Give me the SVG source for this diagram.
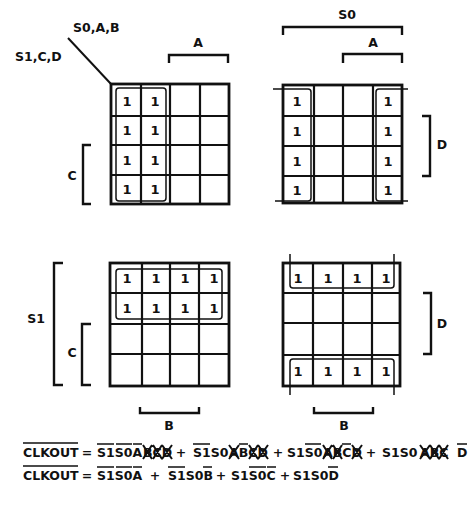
<svg xmlns="http://www.w3.org/2000/svg" width="473" height="505" viewBox="0 0 473 505">
<style>
text{font-family:"DejaVu Sans","Liberation Sans",sans-serif;font-weight:bold;fill:#111}
.lbl{font-size:12.5px}
.one{font-size:13px;text-anchor:middle}
.eq{font-size:12.5px}
.mid{text-anchor:middle}
.outer{fill:none;stroke:#111;stroke-width:2.8}
.grid{fill:none;stroke:#111;stroke-width:2.2}
.grp{fill:none;stroke:#111;stroke-width:1.5}
.br{fill:none;stroke:#111;stroke-width:2.4}
.bar{stroke:#111;stroke-width:1.5}
.x{stroke:#111;stroke-width:2}
</style>
<rect width="473" height="505" fill="#fff"/>

<g id="labels">
<line x1="68" y1="38" x2="111" y2="84" stroke="#111" stroke-width="2"/>
<text class="lbl" x="73" y="32">S0,A,B</text>
<text class="lbl" x="15" y="61">S1,C,D</text>
</g>

<g id="map-top-left">
<rect class="outer" x="111" y="84" width="118" height="120"/>
<path class="grid" d="M141,84V204M170,84V204M200,84V204M111,116H229M111,145H229M111,175H229"/>
<rect class="grp" x="116" y="88" width="50" height="113" rx="3"/>
<text class="one" x="127" y="106">1</text><text class="one" x="155" y="106">1</text>
<text class="one" x="127" y="135">1</text><text class="one" x="155" y="135">1</text>
<text class="one" x="127" y="165">1</text><text class="one" x="155" y="165">1</text>
<text class="one" x="127" y="194">1</text><text class="one" x="155" y="194">1</text>
<path class="br" d="M169,63V55H228V63"/>
<text class="lbl mid" x="198" y="47">A</text>
<path class="br" d="M91,145H83V204H91"/>
<text class="lbl mid" x="72" y="180">C</text>
</g>

<g id="map-top-right">
<rect class="outer" x="283" y="85" width="119" height="118"/>
<path class="grid" d="M314,85V203M343,85V203M373,85V203M283,116H402M283,146H402M283,176H402"/>
<path class="grp" d="M273,89H308Q311,89 311,92V198Q311,201 308,201H275"/>
<path class="grp" d="M408,89H379Q376,89 376,92V198Q376,201 379,201H408"/>
<text class="one" x="297" y="106">1</text><text class="one" x="388" y="106">1</text>
<text class="one" x="297" y="136">1</text><text class="one" x="388" y="136">1</text>
<text class="one" x="297" y="166">1</text><text class="one" x="388" y="166">1</text>
<text class="one" x="297" y="195">1</text><text class="one" x="388" y="195">1</text>
<path class="br" d="M283,35V27H402V35"/>
<text class="lbl mid" x="347" y="19">S0</text>
<path class="br" d="M343,63V54H402V63"/>
<text class="lbl mid" x="373" y="47">A</text>
<path class="br" d="M422,116H430V176H422"/>
<text class="lbl mid" x="442" y="149">D</text>
</g>

<g id="map-bottom-left">
<rect class="outer" x="110" y="263" width="119" height="123"/>
<path class="grid" d="M142,263V386M170,263V386M199,263V386M110,293H229M110,324H229M110,354H229"/>
<rect class="grp" x="116" y="269" width="106" height="50" rx="3"/>
<text class="one" x="127" y="283">1</text><text class="one" x="156" y="283">1</text><text class="one" x="185" y="283">1</text><text class="one" x="214" y="283">1</text>
<text class="one" x="127" y="313">1</text><text class="one" x="156" y="313">1</text><text class="one" x="185" y="313">1</text><text class="one" x="214" y="313">1</text>
<path class="br" d="M63,263H54V385H63"/>
<text class="lbl mid" x="36" y="323">S1</text>
<path class="br" d="M91,324H82V385H91"/>
<text class="lbl mid" x="72" y="357">C</text>
<path class="br" d="M140,407V413H199V407"/>
<text class="lbl mid" x="169" y="430">B</text>
</g>

<g id="map-bottom-right">
<rect class="outer" x="283" y="263" width="117" height="123"/>
<path class="grid" d="M313,263V386M343,263V386M372,263V386M283,293H400M283,323H400M283,355H400"/>
<path class="grp" d="M290,254V285Q290,288 293,288H391Q394,288 394,285V254"/>
<path class="grp" d="M290,395V362Q290,359 293,359H391Q394,359 394,362V395"/>
<text class="one" x="298" y="283">1</text><text class="one" x="328" y="283">1</text><text class="one" x="357" y="283">1</text><text class="one" x="386" y="283">1</text>
<text class="one" x="298" y="376">1</text><text class="one" x="328" y="376">1</text><text class="one" x="357" y="376">1</text><text class="one" x="386" y="376">1</text>
<path class="br" d="M423,293H431V354H423"/>
<text class="lbl mid" x="442" y="328">D</text>
<path class="br" d="M314,407V413H373V407"/>
<text class="lbl mid" x="344" y="430">B</text>
</g>

<g id="equation-1">
<text class="eq" x="23" y="457">CLKOUT</text>
<text class="eq mid" x="87" y="457">=</text>
<text class="eq" x="97" y="457">S1S0A</text>
<text class="eq" x="143" y="457">BCD</text>
<text class="eq mid" x="181" y="457">+</text>
<text class="eq" x="193" y="457">S1S0</text>
<text class="eq" x="229" y="457">ABCD</text>
<text class="eq mid" x="278" y="457">+</text>
<text class="eq" x="287" y="457">S1S0</text>
<text class="eq" x="323" y="457">ABCD</text>
<text class="eq mid" x="371" y="457">+</text>
<text class="eq" x="382" y="457">S1S0</text>
<text class="eq" x="420" y="457">ABC</text>
<text class="eq" x="457" y="457">D</text>
<path class="bar" d="M23,443H78M97,444H114M116,444H132M133,444H142M193,444H210M239,444H248M305,444H321M342,444H351M457,444H467"/>
<path class="x" d="M143,445L152,459M152,445L143,459M153,445L162,459M162,445L153,459M162,445L172,459M172,445L162,459
M229,445L239,459M239,445L229,459M249,445L258,459M258,445L249,459M258,445L268,459M268,445L258,459
M323,445L332,459M332,445L323,459M333,445L342,459M342,445L333,459M352,445L362,459M362,445L352,459
M420,445L430,459M430,445L420,459M430,445L439,459M439,445L430,459M439,445L448,459M448,445L439,459"/>
</g>

<g id="equation-2">
<text class="eq" x="23" y="480">CLKOUT</text>
<text class="eq mid" x="87" y="480">=</text>
<text class="eq" x="97" y="480">S1S0A</text>
<text class="eq mid" x="155" y="480">+</text>
<text class="eq" x="168" y="480">S1S0B</text>
<text class="eq mid" x="221" y="480">+</text>
<text class="eq" x="231" y="480">S1S0C</text>
<text class="eq mid" x="285" y="480">+</text>
<text class="eq" x="293" y="480">S1S0D</text>
<path class="bar" d="M23,466H78M97,467H114M116,467H132M133,467H142M168,467H185M203,467H212M249,467H266M267,467H276M328,467H338"/>
</g>
</svg>
